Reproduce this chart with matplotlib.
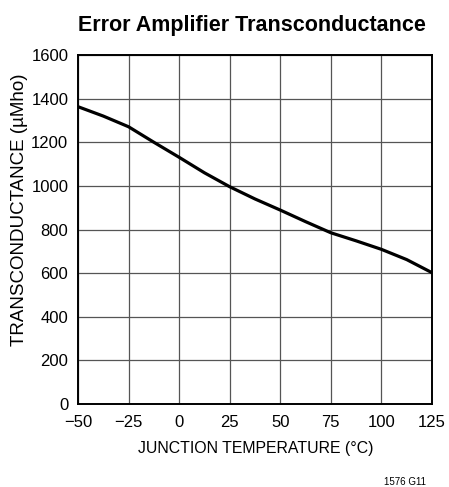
import matplotlib
matplotlib.use("Agg")
import matplotlib.pyplot as plt
from matplotlib import font_manager

names = {f.name for f in font_manager.fontManager.ttflist}
fam = ["Liberation Sans Narrow", "DejaVu Sans"] if "Liberation Sans Narrow" in names else ["Liberation Sans", "DejaVu Sans"]
plt.rcParams['font.family'] = fam

temp = [-50, -37.5, -25, -12.5, 0, 12.5, 25, 37.5, 50, 62.5, 75, 87.5, 100, 112.5, 125]
gm = [1363, 1320, 1271, 1200, 1131, 1060, 996, 940, 889, 836, 785, 748, 709, 662, 602]
xticks = [-50, -25, 0, 25, 50, 75, 100, 125]
xticklabels = ["\u221250", "\u221225", "0", "25", "50", "75", "100", "125"]
yticks = [0, 200, 400, 600, 800, 1000, 1200, 1400, 1600]

fig = plt.figure(figsize=(4.49, 4.87), dpi=100)
ax = fig.add_axes([78/449, 1-404/487, 354/449, 349/487])
ax.plot(temp, gm, color="black", lw=2.3, solid_capstyle="butt")
ax.set_xlim(-50, 125)
ax.set_ylim(0, 1600)
ax.set_xticks(xticks)
ax.set_xticklabels(xticklabels)
ax.set_yticks(yticks)
ax.grid(True, color="#555555", lw=0.9)
ax.tick_params(length=0, labelsize=12, colors="black")
ax.tick_params(axis="x", pad=8)
ax.tick_params(axis="y", pad=7)
for s in ax.spines.values():
    s.set_linewidth(1.4)
    s.set_color("black")
ax.set_xlabel("JUNCTION TEMPERATURE (\u00b0C)", fontsize=11.4)
ax.xaxis.set_label_coords((256-78)/354, -(449-404)/349)
ax.xaxis.label.set_va("center")
ax.set_ylabel("TRANSCONDUCTANCE (\u00b5Mho)", fontsize=13.5)
ax.yaxis.set_label_coords((20-78)/354, (404-210)/349)
ax.yaxis.label.set_va("center")
fig.text(252/449, 1-25/487, "Error Amplifier Transconductance", ha="center", va="center",
         fontsize=15.5, fontweight="bold")
fig.text(405/449, 1-482/487, "1576 G11", ha="center", va="center", fontsize=7)
fig.savefig("out.png", dpi=100)
